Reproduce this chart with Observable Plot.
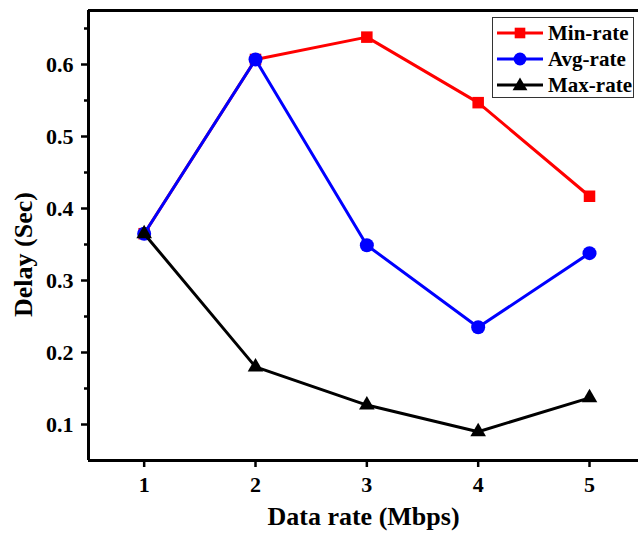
<!DOCTYPE html>
<html>
<head>
<meta charset="utf-8">
<script src="https://cdn.jsdelivr.net/npm/d3@7"></script>
<script src="https://cdn.jsdelivr.net/npm/@observablehq/plot@0.6"></script>
<style>
  html, body { margin: 0; padding: 0; background: #fff; }
  #wrap { position: relative; width: 638px; height: 539px; overflow: hidden; }
  #legend { position: absolute; left: 492px; top: 17px; width: 142px; height: 81px; border: 1.5px solid #333; background: #fff; box-sizing: border-box;
    font-family: "Liberation Serif", "Times New Roman", serif; font-weight: bold; font-size: 21px; }
  .row { position: absolute; left: 4px; height: 26px; display: flex; align-items: center; white-space: nowrap; }
  .row svg { margin-right: 5px; }
</style>
</head>
<body>
<div id="wrap"></div>
<script>
const dataRates = [1, 2, 3, 4, 5];
const minRate = [0.365, 0.607, 0.638, 0.547, 0.417];
const avgRate = [0.365, 0.607, 0.349, 0.235, 0.338];
const maxRate = [0.365, 0.180, 0.127, 0.090, 0.137];
const seriesNames = ["Min-rate", "Avg-rate", "Max-rate"];
const seriesColors = ["#ff0000", "#0000ff", "#000000"];
const seriesSymbols = ["square", "circle", "triangle"];
const yTicks = [0.1, 0.2, 0.3, 0.4, 0.5, 0.6];
const yMinorTicks = [0.15, 0.25, 0.35, 0.45, 0.55, 0.65];

const seriesValues = [minRate, avgRate, maxRate];
const rows = seriesNames.map((name, i) => dataRates.map((x, j) => ({series: name, x, y: seriesValues[i][j]})));

const font = '"Liberation Serif", "Times New Roman", serif';
const marks = [
  Plot.axisY({ticks: yMinorTicks, tickSize: 4, tickFormat: () => "", strokeWidth: 2.5, label: null}),
  Plot.axisY({ticks: yTicks, tickSize: 7, tickPadding: 8, tickFormat: d => d.toFixed(1), strokeWidth: 2.5, fontSize: 22, fontWeight: "bold", label: null}),
  Plot.axisX({ticks: dataRates, tickSize: 7, tickPadding: 9, tickFormat: d => String(d), strokeWidth: 2.5, fontSize: 22, fontWeight: "bold", label: null}),
  Plot.ruleX([0.5], {stroke: "#000", strokeWidth: 3}),
  Plot.ruleY([0.05, 0.675], {stroke: "#000", strokeWidth: 3}),
  Plot.text(["Data rate (Mbps)"], {frameAnchor: "bottom", dy: 64, fontSize: 26, fontWeight: "bold", fill: "#000"}),
  Plot.text(["Delay (Sec)"], {frameAnchor: "left", textAnchor: "middle", dx: -65, dy: 19, rotate: -90, fontSize: 26, fontWeight: "bold", fill: "#000"})
];
const rVals = [6.5, 7, 5.8];
rows.forEach((data, i) => {
  marks.push(Plot.line(data, {x: "x", y: "y", stroke: seriesColors[i], strokeWidth: 3}));
  marks.push(Plot.dot(data, {x: "x", y: "y", symbol: () => seriesSymbols[i], fill: seriesColors[i], stroke: "none", r: rVals[i]}));
});

const chart = Plot.plot({
  width: 638,
  height: 539,
  marginLeft: 88,
  marginRight: 0,
  marginTop: 10,
  marginBottom: 79,
  style: {fontFamily: font, background: "#fff", color: "#000"},
  x: {domain: [0.5, 5.44]},
  y: {domain: [0.05, 0.675]},
  symbol: {domain: seriesSymbols, range: seriesSymbols},
  marks
});
const wrap = document.getElementById("wrap");
wrap.appendChild(chart);

const legend = document.createElement("div");
legend.id = "legend";
seriesNames.forEach((name, i) => {
  const row = document.createElement("div");
  row.className = "row";
  row.style.top = (2 + i * 26) + "px";
  const sym = d3.symbol(seriesSymbols[i] === "square" ? d3.symbolSquare : seriesSymbols[i] === "circle" ? d3.symbolCircle : d3.symbolTriangle, Math.PI * rVals[i] * rVals[i] * (i === 2 ? 0.9 : 0.85))();
  row.innerHTML = `<svg width="46" height="20"><line x1="0" x2="46" y1="10" y2="10" stroke="${seriesColors[i]}" stroke-width="3"/><path d="${sym}" transform="translate(23,${i === 2 ? 11 : 10})" fill="${seriesColors[i]}"/></svg><span>${name}</span>`;
  legend.appendChild(row);
});
wrap.appendChild(legend);
</script>
</body>
</html>
